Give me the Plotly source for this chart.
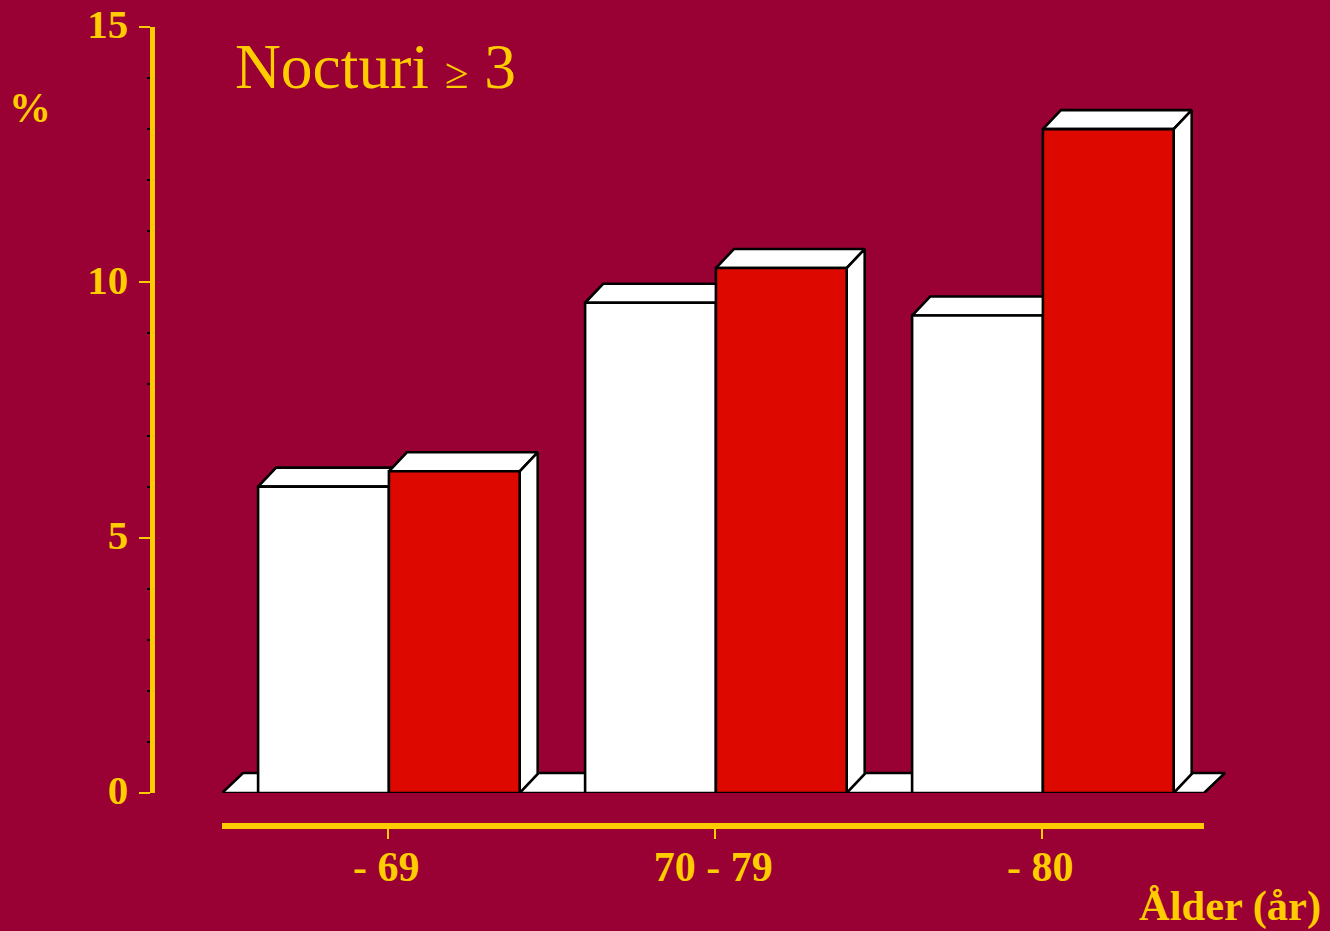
import plotly.graph_objects as go

# ---- data ----
categories = ["- 69", "70 - 79", "- 80"]
positions = [0, 1, 2]
series_white = [6.0, 9.6, 9.35]
series_red = [6.3, 10.28, 13.0]
y_ticks = [0, 5, 10, 15]

# ---- style ----
W, H = 1330, 931
BG = "#990033"
YELLOW = "#FFCC00"
RED = "#DD0900"
SERIF = "Liberation Serif, Times New Roman, serif"
EDGE = 2.6
BAR_W = 0.4
BAR_SHIFT = 0.7 / 327                  # bars sit a hair right of the ticks
DX, DY = 18 / 327, 19 / 51.07          # depth of bars, in axis units
FDX, FDY = 21 / 327, 20 / 51.07        # depth of the floor
X_RANGE = [-(388.2 - 222) / 327, (1204 - 388.2) / 327]
Y_RANGE = [0, 15]
x_dom = [222 / W, 1204 / W]
y_dom = [(H - 793) / H, (H - 27) / H]
# wider hidden axis with the same scale, for the depth faces
x_dom_back = [222 / W, 1240 / W]
X_RANGE_BACK = [X_RANGE[0], X_RANGE[0] + (1240 - 222) / 327]

fig = go.Figure()


def poly(xs, ys, fill="white"):
    fig.add_trace(go.Scatter(
        x=xs + xs[:1], y=ys + ys[:1], mode="lines", fill="toself",
        fillcolor=fill, line=dict(color="black", width=EDGE, simplify=False),
        cliponaxis=False, hoverinfo="skip", showlegend=False,
        xaxis="x", yaxis="y"))


# floor
l, r = X_RANGE
poly([l, r, r + FDX, l + FDX], [0, 0, FDY, FDY])

# top and side faces derived from the values
for p, w, v in zip(positions, series_white, series_red):
    x1 = p + BAR_SHIFT
    x0, x2 = x1 - BAR_W, x1 + BAR_W
    poly([x0, x1, x1 + DX, x0 + DX], [w, w, w + DY, w + DY])
    poly([x1, x2, x2 + DX, x1 + DX], [v, v, v + DY, v + DY])
    poly([x2, x2 + DX, x2 + DX, x2], [0, DY, v + DY, v])

# front faces, on the visible axes, drawn above the depth faces
for vals, col, off in ((series_white, "white", -BAR_W + BAR_SHIFT),
                       (series_red, RED, BAR_SHIFT)):
    fig.add_trace(go.Bar(
        x=positions, y=vals, width=BAR_W, offset=off,
        marker=dict(color=col, line=dict(color="black", width=EDGE)),
        hoverinfo="skip", showlegend=False, xaxis="x2", yaxis="y2",
        cliponaxis=False))

fig.update_layout(
    template=None,
    width=W, height=H, margin=dict(l=0, r=0, t=0, b=0),
    paper_bgcolor=BG, plot_bgcolor="rgba(0,0,0,0)", barmode="overlay",
    showlegend=False,
    xaxis=dict(domain=x_dom_back, range=X_RANGE_BACK, visible=False,
               anchor="y"),
    yaxis=dict(domain=y_dom, range=Y_RANGE, visible=False, anchor="x"),
    xaxis2=dict(
        domain=x_dom, range=X_RANGE, anchor="free", automargin=False,
        position=(H - 825.5) / H, showgrid=False, zeroline=False,
        showline=True, linecolor=YELLOW, linewidth=6,
        tickmode="array", tickvals=positions, ticktext=categories,
        ticks="outside", ticklen=10, tickwidth=2, tickcolor=YELLOW,
        tickfont=dict(family=SERIF, size=42, color=YELLOW, weight="bold"),
        ticklabelstandoff=-8, ticklabelshift=-2),
    yaxis2=dict(
        domain=y_dom, range=Y_RANGE, anchor="free", position=151.5 / W,
        automargin=False, showgrid=False, zeroline=False, showline=True,
        linecolor=YELLOW, linewidth=5, tickmode="array", tickvals=y_ticks,
        ticks="outside", ticklen=11, tickwidth=2, tickcolor=YELLOW,
        tickfont=dict(family=SERIF, size=41, color=YELLOW, weight="bold"),
        ticklabelstandoff=2, ticklabelshift=-3,
        minor=dict(ticks="outside", ticklen=3, tickwidth=2,
                   tickcolor="black", dtick=1, tick0=0, showgrid=False)),
    annotations=[
        dict(text="Nocturi <span style='font-size:43px'>≥</span> 3",
             xref="paper", yref="paper", x=233 / W, y=1 - 66 / H,
             xanchor="left", yanchor="middle", showarrow=False,
             font=dict(family=SERIF, size=63.5, color=YELLOW)),
        dict(text="%", xref="paper", yref="paper", x=30 / W, y=1 - 108 / H,
             xanchor="center", yanchor="middle", showarrow=False,
             font=dict(family=SERIF, size=42, color=YELLOW, weight="bold")),
        dict(text="Ålder (år)", xref="paper", yref="paper", x=1323 / W,
             y=1 - 906 / H, xanchor="right", yanchor="middle", showarrow=False,
             font=dict(family=SERIF, size=42.5, color=YELLOW, weight="bold")),
    ],
)

fig.write_html("out.html", config=dict(displayModeBar=False),
               post_script="document.body.style.margin='0';")
